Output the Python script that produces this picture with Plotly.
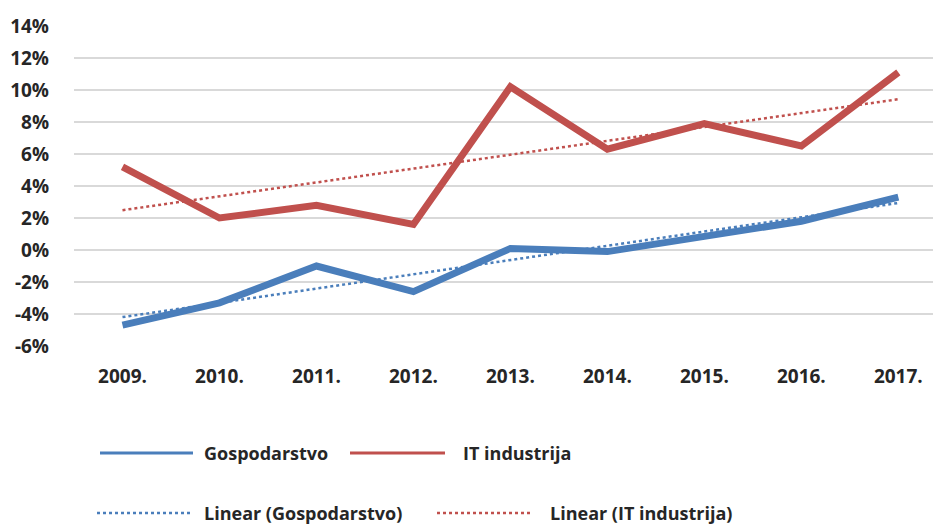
import numpy as np
import plotly.graph_objects as go

years = ["2009.", "2010.", "2011.", "2012.", "2013.", "2014.", "2015.", "2016.", "2017."]
gospodarstvo = [-4.7, -3.3, -1.0, -2.6, 0.1, -0.1, 0.85, 1.8, 3.3]
it_industrija = [5.2, 2.0, 2.8, 1.6, 10.2, 6.3, 7.9, 6.5, 11.1]
y_ticks = [-6, -4, -2, 0, 2, 4, 6, 8, 10, 12, 14]
y_ticktext = [f"{v}%" for v in y_ticks]

BLUE = "#4a7ebb"
RED = "#c0504d"
TXT = "#262626"
FONT = "Open Sans"

idx = np.arange(len(years))
g_fit = np.polyval(np.polyfit(idx, gospodarstvo, 1), idx)
it_fit = np.polyval(np.polyfit(idx, it_industrija, 1), idx)

fig = go.Figure()
fig.add_trace(go.Scatter(x=years, y=g_fit, mode="lines", name="Linear (Gospodarstvo)",
                         line=dict(color=BLUE, width=2.5, dash="dot")))
fig.add_trace(go.Scatter(x=years, y=it_fit, mode="lines", name="Linear (IT industrija)",
                         line=dict(color=RED, width=2.5, dash="dot")))
fig.add_trace(go.Scatter(x=years, y=gospodarstvo, mode="lines", name="Gospodarstvo",
                         line=dict(color=BLUE, width=7)))
fig.add_trace(go.Scatter(x=years, y=it_industrija, mode="lines", name="IT industrija",
                         line=dict(color=RED, width=7)))

# page body has an 8px default margin
OFF = 8
W, H = 941 - OFF, 525 - OFF
ML, MR, MT, MB = 74 - OFF, 0, 26 - OFF, 179
PW, PH = W - ML - MR, H - MT - MB


def px(x):
    return (x - OFF - ML) / PW


def py(y):
    return (H - MB - (y - OFF)) / PH


legend_items = [
    (100, 193, 453, BLUE, "solid", 3, 203, "Gospodarstvo"),
    (350, 445, 453, RED, "solid", 3, 462, "IT industrija"),
    (97, 192, 513, BLUE, "dot", 2.5, 203, "Linear (Gospodarstvo)"),
    (437, 533, 513, RED, "dot", 2.5, 549, "Linear (IT industrija)"),
]
shapes = []
annotations = []
for x0, x1, yy, col, dash, w, tx, label in legend_items:
    shapes.append(dict(type="line", xref="paper", yref="paper", x0=px(x0), x1=px(x1),
                       y0=py(yy), y1=py(yy), line=dict(color=col, width=w, dash=dash)))
    annotations.append(dict(xref="paper", yref="paper", x=px(tx), y=py(yy), text=label,
                            showarrow=False, xanchor="left", yanchor="middle", borderpad=0,
                            font=dict(family=FONT, size=18, color=TXT, weight="bold")))

tick_font = dict(family=FONT, size=19, color=TXT, weight="bold")
fig.update_layout(
    width=W, height=H,
    margin=dict(l=ML, r=MR, t=MT, b=MB),
    paper_bgcolor="white", plot_bgcolor="white",
    showlegend=False,
    shapes=shapes, annotations=annotations,
    font=dict(family=FONT, size=18, color=TXT, weight="bold"),
    xaxis=dict(type="category", range=[-0.5, 8.44], showgrid=False, zeroline=False,
               showline=False, ticks="", ticklabelstandoff=17, tickfont=tick_font),
    yaxis=dict(range=[-6, 14], tickvals=y_ticks, ticktext=y_ticktext,
               showgrid=True, gridcolor="#d9d9d9", gridwidth=1.5, zeroline=False,
               showline=False, ticks="", ticklabelstandoff=24, tickfont=tick_font),
)

fig.write_html("out.html")
